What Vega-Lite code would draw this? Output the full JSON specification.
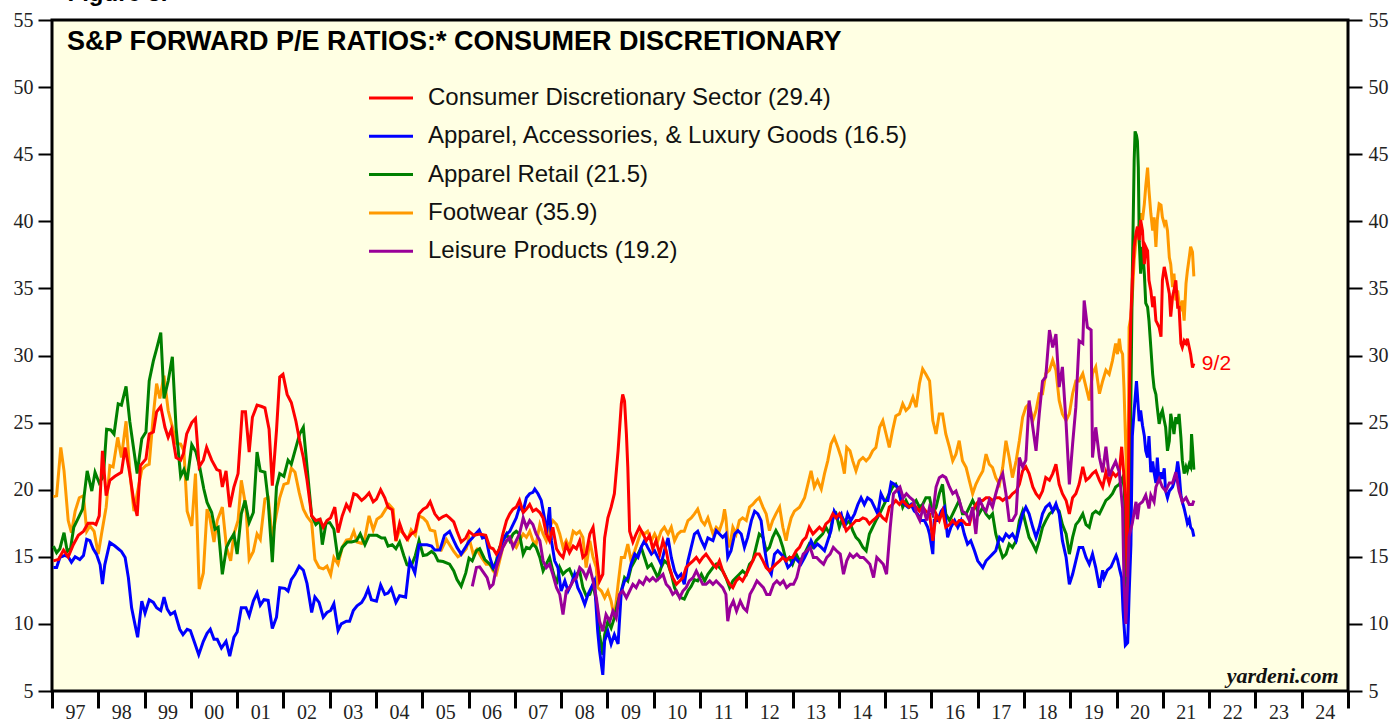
{
"$schema":"https://vega.github.io/schema/vega-lite/v6.json",
"width":1296,"height":671,
"autosize":{"type":"none"},
"padding":{"left":52,"top":20,"right":47,"bottom":28},
"background":"#FFFFFF",
"title":{"text":"S&P FORWARD P/E RATIOS:* CONSUMER DISCRETIONARY","anchor":"start","frame":"group","offset":-96,"dx":15,"font":"Liberation Sans","fontSize":27,"fontWeight":"bold","color":"#000000","baseline":"alphabetic"},
"config":{"view":{"fill":"#FFFFE3","stroke":"#000000","strokeWidth":3}},
"datasets":{
"cd":[{"t":1997.03,"v":14.7},{"t":1997.14,"v":14.8},{"t":1997.25,"v":15.5},{"t":1997.35,"v":15.0},{"t":1997.46,"v":15.9},{"t":1997.57,"v":16.6},{"t":1997.68,"v":16.9},{"t":1997.78,"v":17.5},{"t":1997.89,"v":17.5},{"t":1997.95,"v":17.4},{"t":1998.02,"v":18.05},{"t":1998.09,"v":22.9},{"t":1998.17,"v":19.55},{"t":1998.25,"v":20.7},{"t":1998.36,"v":21.0},{"t":1998.5,"v":21.3},{"t":1998.58,"v":23.15},{"t":1998.68,"v":21.2},{"t":1998.77,"v":19.05},{"t":1998.84,"v":18.05},{"t":1998.91,"v":21.8},{"t":1999.03,"v":22.3},{"t":1999.1,"v":24.15},{"t":1999.19,"v":24.3},{"t":1999.26,"v":25.8},{"t":1999.35,"v":26.2},{"t":1999.44,"v":24.65},{"t":1999.51,"v":23.9},{"t":1999.58,"v":24.5},{"t":1999.68,"v":22.4},{"t":1999.78,"v":22.2},{"t":1999.84,"v":22.7},{"t":1999.91,"v":24.15},{"t":2000.02,"v":25.0},{"t":2000.1,"v":25.3},{"t":2000.18,"v":21.7},{"t":2000.27,"v":22.2},{"t":2000.34,"v":23.15},{"t":2000.45,"v":22.2},{"t":2000.56,"v":21.5},{"t":2000.63,"v":21.4},{"t":2000.68,"v":20.2},{"t":2000.76,"v":21.4},{"t":2000.84,"v":18.7},{"t":2000.93,"v":20.2},{"t":2001.02,"v":21.2},{"t":2001.11,"v":25.8},{"t":2001.18,"v":25.8},{"t":2001.26,"v":22.8},{"t":2001.33,"v":25.4},{"t":2001.43,"v":26.3},{"t":2001.53,"v":26.2},{"t":2001.6,"v":26.1},{"t":2001.69,"v":24.5},{"t":2001.76,"v":20.3},{"t":2001.85,"v":24.4},{"t":2001.92,"v":28.4},{"t":2001.99,"v":28.6},{"t":2002.08,"v":27.1},{"t":2002.17,"v":26.5},{"t":2002.27,"v":25.1},{"t":2002.35,"v":23.65},{"t":2002.43,"v":22.4},{"t":2002.51,"v":20.7},{"t":2002.61,"v":18.05},{"t":2002.7,"v":17.7},{"t":2002.79,"v":17.8},{"t":2002.86,"v":17.2},{"t":2002.94,"v":17.7},{"t":2003.02,"v":17.9},{"t":2003.11,"v":18.7},{"t":2003.18,"v":16.8},{"t":2003.27,"v":18.05},{"t":2003.36,"v":18.9},{"t":2003.43,"v":18.5},{"t":2003.52,"v":19.7},{"t":2003.59,"v":19.6},{"t":2003.69,"v":19.2},{"t":2003.76,"v":19.4},{"t":2003.85,"v":19.75},{"t":2003.94,"v":19.1},{"t":2004.01,"v":19.3},{"t":2004.1,"v":20.0},{"t":2004.19,"v":19.4},{"t":2004.26,"v":18.7},{"t":2004.35,"v":18.5},{"t":2004.43,"v":16.2},{"t":2004.51,"v":17.5},{"t":2004.58,"v":16.8},{"t":2004.67,"v":16.3},{"t":2004.76,"v":16.7},{"t":2004.85,"v":16.9},{"t":2004.93,"v":18.2},{"t":2005.02,"v":18.55},{"t":2005.1,"v":18.7},{"t":2005.17,"v":19.1},{"t":2005.27,"v":18.2},{"t":2005.36,"v":17.8},{"t":2005.45,"v":18.0},{"t":2005.52,"v":18.1},{"t":2005.59,"v":17.9},{"t":2005.68,"v":17.6},{"t":2005.75,"v":16.9},{"t":2005.84,"v":16.1},{"t":2005.94,"v":16.4},{"t":2006.01,"v":16.9},{"t":2006.11,"v":16.6},{"t":2006.24,"v":16.7},{"t":2006.37,"v":16.6},{"t":2006.46,"v":15.7},{"t":2006.53,"v":15.6},{"t":2006.6,"v":15.2},{"t":2006.67,"v":15.6},{"t":2006.74,"v":16.7},{"t":2006.82,"v":17.7},{"t":2006.89,"v":18.2},{"t":2006.96,"v":18.55},{"t":2007.03,"v":18.7},{"t":2007.1,"v":19.2},{"t":2007.18,"v":18.3},{"t":2007.25,"v":18.55},{"t":2007.32,"v":18.9},{"t":2007.39,"v":18.4},{"t":2007.46,"v":18.55},{"t":2007.54,"v":18.3},{"t":2007.61,"v":17.9},{"t":2007.68,"v":16.7},{"t":2007.75,"v":16.2},{"t":2007.82,"v":17.2},{"t":2007.9,"v":15.6},{"t":2007.97,"v":15.2},{"t":2008.04,"v":14.95},{"t":2008.11,"v":15.9},{"t":2008.18,"v":15.3},{"t":2008.26,"v":15.8},{"t":2008.33,"v":15.6},{"t":2008.4,"v":16.2},{"t":2008.47,"v":14.95},{"t":2008.54,"v":15.2},{"t":2008.62,"v":16.7},{"t":2008.69,"v":17.2},{"t":2008.76,"v":15.2},{"t":2008.83,"v":13.2},{"t":2008.9,"v":13.7},{"t":2008.94,"v":16.4},{"t":2009.01,"v":17.9},{"t":2009.08,"v":18.7},{"t":2009.15,"v":19.7},{"t":2009.23,"v":22.9},{"t":2009.3,"v":26.4},{"t":2009.33,"v":27.1},{"t":2009.37,"v":26.6},{"t":2009.41,"v":24.15},{"t":2009.44,"v":21.7},{"t":2009.48,"v":16.9},{"t":2009.55,"v":16.1},{"t":2009.62,"v":16.7},{"t":2009.69,"v":17.2},{"t":2009.77,"v":16.7},{"t":2009.84,"v":16.2},{"t":2009.91,"v":16.6},{"t":2009.98,"v":15.6},{"t":2010.05,"v":16.2},{"t":2010.13,"v":15.2},{"t":2010.2,"v":16.2},{"t":2010.27,"v":15.45},{"t":2010.34,"v":14.2},{"t":2010.41,"v":13.45},{"t":2010.49,"v":12.95},{"t":2010.56,"v":13.2},{"t":2010.63,"v":13.45},{"t":2010.7,"v":14.2},{"t":2010.77,"v":14.45},{"t":2010.85,"v":14.7},{"t":2010.92,"v":14.95},{"t":2010.99,"v":14.6},{"t":2011.06,"v":14.95},{"t":2011.13,"v":15.2},{"t":2011.21,"v":14.8},{"t":2011.28,"v":14.45},{"t":2011.35,"v":14.2},{"t":2011.42,"v":14.7},{"t":2011.49,"v":13.95},{"t":2011.56,"v":13.45},{"t":2011.64,"v":12.95},{"t":2011.71,"v":12.7},{"t":2011.78,"v":13.2},{"t":2011.85,"v":13.45},{"t":2011.92,"v":13.2},{"t":2012.0,"v":13.7},{"t":2012.07,"v":14.2},{"t":2012.14,"v":14.7},{"t":2012.21,"v":15.2},{"t":2012.28,"v":15.2},{"t":2012.36,"v":14.7},{"t":2012.43,"v":14.2},{"t":2012.5,"v":13.95},{"t":2012.57,"v":14.2},{"t":2012.64,"v":14.45},{"t":2012.72,"v":14.7},{"t":2012.79,"v":14.95},{"t":2012.86,"v":14.7},{"t":2012.93,"v":14.95},{"t":2013.0,"v":14.95},{"t":2013.08,"v":15.45},{"t":2013.15,"v":15.7},{"t":2013.22,"v":16.2},{"t":2013.29,"v":16.45},{"t":2013.36,"v":17.2},{"t":2013.44,"v":16.7},{"t":2013.51,"v":16.95},{"t":2013.58,"v":17.2},{"t":2013.65,"v":16.95},{"t":2013.72,"v":17.45},{"t":2013.8,"v":17.7},{"t":2013.87,"v":18.2},{"t":2013.94,"v":17.9},{"t":2014.01,"v":18.2},{"t":2014.08,"v":17.7},{"t":2014.16,"v":16.95},{"t":2014.23,"v":17.2},{"t":2014.3,"v":17.45},{"t":2014.37,"v":17.7},{"t":2014.44,"v":17.7},{"t":2014.52,"v":17.9},{"t":2014.59,"v":17.8},{"t":2014.66,"v":17.45},{"t":2014.73,"v":17.7},{"t":2014.8,"v":17.9},{"t":2014.88,"v":18.2},{"t":2014.95,"v":17.9},{"t":2015.02,"v":17.7},{"t":2015.09,"v":18.7},{"t":2015.16,"v":18.9},{"t":2015.23,"v":19.2},{"t":2015.31,"v":18.9},{"t":2015.38,"v":19.2},{"t":2015.45,"v":18.9},{"t":2015.52,"v":18.7},{"t":2015.6,"v":18.9},{"t":2015.67,"v":18.7},{"t":2015.74,"v":18.4},{"t":2015.81,"v":18.7},{"t":2015.88,"v":18.4},{"t":2015.96,"v":18.2},{"t":2016.03,"v":16.2},{"t":2016.1,"v":18.2},{"t":2016.17,"v":17.7},{"t":2016.24,"v":18.4},{"t":2016.31,"v":17.2},{"t":2016.39,"v":17.4},{"t":2016.46,"v":17.7},{"t":2016.53,"v":17.4},{"t":2016.6,"v":17.7},{"t":2016.67,"v":17.7},{"t":2016.75,"v":17.4},{"t":2016.82,"v":17.4},{"t":2016.89,"v":18.4},{"t":2016.96,"v":18.9},{"t":2017.03,"v":19.2},{"t":2017.11,"v":19.2},{"t":2017.18,"v":19.4},{"t":2017.25,"v":19.4},{"t":2017.32,"v":19.2},{"t":2017.39,"v":19.4},{"t":2017.47,"v":19.4},{"t":2017.54,"v":19.2},{"t":2017.61,"v":19.4},{"t":2017.68,"v":19.4},{"t":2017.75,"v":19.7},{"t":2017.83,"v":19.9},{"t":2017.9,"v":20.4},{"t":2017.97,"v":21.4},{"t":2018.04,"v":21.7},{"t":2018.11,"v":21.2},{"t":2018.19,"v":20.2},{"t":2018.26,"v":19.7},{"t":2018.33,"v":19.4},{"t":2018.4,"v":19.9},{"t":2018.47,"v":20.9},{"t":2018.55,"v":20.7},{"t":2018.62,"v":21.2},{"t":2018.69,"v":21.9},{"t":2018.76,"v":20.4},{"t":2018.83,"v":19.7},{"t":2018.91,"v":19.2},{"t":2018.98,"v":18.2},{"t":2019.05,"v":19.4},{"t":2019.12,"v":19.7},{"t":2019.19,"v":20.4},{"t":2019.27,"v":21.7},{"t":2019.34,"v":20.7},{"t":2019.41,"v":20.9},{"t":2019.48,"v":21.2},{"t":2019.55,"v":21.4},{"t":2019.63,"v":20.7},{"t":2019.7,"v":20.2},{"t":2019.77,"v":21.3},{"t":2019.84,"v":20.5},{"t":2019.91,"v":21.3},{"t":2019.98,"v":21.0},{"t":2020.06,"v":21.3},{"t":2020.11,"v":23.2},{"t":2020.16,"v":21.0},{"t":2020.2,"v":19.0},{"t":2020.23,"v":13.5},{"t":2020.26,"v":22.0},{"t":2020.29,"v":30.0},{"t":2020.31,"v":33.1},{"t":2020.34,"v":35.6},{"t":2020.38,"v":38.1},{"t":2020.42,"v":39.1},{"t":2020.45,"v":39.6},{"t":2020.49,"v":38.6},{"t":2020.52,"v":40.1},{"t":2020.56,"v":39.3},{"t":2020.6,"v":36.8},{"t":2020.63,"v":38.1},{"t":2020.67,"v":37.8},{"t":2020.7,"v":35.6},{"t":2020.74,"v":34.85},{"t":2020.78,"v":33.6},{"t":2020.81,"v":34.4},{"t":2020.85,"v":32.6},{"t":2020.88,"v":32.4},{"t":2020.92,"v":32.1},{"t":2020.96,"v":31.4},{"t":2020.99,"v":35.6},{"t":2021.03,"v":36.6},{"t":2021.06,"v":36.1},{"t":2021.1,"v":35.35},{"t":2021.14,"v":34.6},{"t":2021.17,"v":32.9},{"t":2021.21,"v":34.4},{"t":2021.24,"v":34.85},{"t":2021.28,"v":35.6},{"t":2021.32,"v":33.6},{"t":2021.35,"v":33.6},{"t":2021.39,"v":30.9},{"t":2021.42,"v":30.6},{"t":2021.46,"v":31.1},{"t":2021.5,"v":30.9},{"t":2021.53,"v":31.25},{"t":2021.57,"v":30.6},{"t":2021.6,"v":30.1},{"t":2021.64,"v":29.1},{"t":2021.67,"v":29.4}],
"ap":[{"t":1997.03,"v":14.2},{"t":1997.1,"v":14.2},{"t":1997.17,"v":14.95},{"t":1997.28,"v":15.1},{"t":1997.35,"v":15.0},{"t":1997.42,"v":14.6},{"t":1997.5,"v":15.0},{"t":1997.6,"v":14.8},{"t":1997.68,"v":15.1},{"t":1997.75,"v":16.3},{"t":1997.82,"v":16.2},{"t":1997.89,"v":15.6},{"t":1997.96,"v":15.2},{"t":1998.04,"v":14.4},{"t":1998.09,"v":12.96},{"t":1998.14,"v":14.4},{"t":1998.25,"v":16.06},{"t":1998.36,"v":15.8},{"t":1998.43,"v":15.6},{"t":1998.5,"v":15.4},{"t":1998.58,"v":14.95},{"t":1998.65,"v":13.45},{"t":1998.72,"v":11.2},{"t":1998.79,"v":10.0},{"t":1998.85,"v":9.0},{"t":1998.94,"v":11.7},{"t":1999.01,"v":10.8},{"t":1999.1,"v":11.8},{"t":1999.19,"v":11.6},{"t":1999.26,"v":11.2},{"t":1999.35,"v":11.0},{"t":1999.42,"v":12.0},{"t":1999.49,"v":11.1},{"t":1999.56,"v":10.7},{"t":1999.65,"v":10.9},{"t":1999.76,"v":9.6},{"t":1999.83,"v":9.2},{"t":1999.92,"v":9.6},{"t":1999.99,"v":9.5},{"t":2000.07,"v":8.7},{"t":2000.17,"v":7.7},{"t":2000.27,"v":8.7},{"t":2000.35,"v":9.3},{"t":2000.42,"v":9.6},{"t":2000.5,"v":8.85},{"t":2000.57,"v":8.85},{"t":2000.66,"v":8.2},{"t":2000.76,"v":8.7},{"t":2000.84,"v":7.6},{"t":2000.93,"v":9.0},{"t":2001.0,"v":9.4},{"t":2001.09,"v":11.2},{"t":2001.19,"v":11.2},{"t":2001.26,"v":10.6},{"t":2001.35,"v":11.7},{"t":2001.43,"v":12.3},{"t":2001.5,"v":11.4},{"t":2001.58,"v":11.8},{"t":2001.67,"v":11.75},{"t":2001.76,"v":9.65},{"t":2001.85,"v":10.5},{"t":2001.92,"v":12.7},{"t":2002.03,"v":12.65},{"t":2002.1,"v":12.45},{"t":2002.17,"v":13.3},{"t":2002.25,"v":13.7},{"t":2002.34,"v":14.3},{"t":2002.43,"v":14.0},{"t":2002.51,"v":13.0},{"t":2002.61,"v":10.85},{"t":2002.68,"v":12.0},{"t":2002.77,"v":11.6},{"t":2002.86,"v":10.5},{"t":2002.94,"v":10.85},{"t":2003.02,"v":11.0},{"t":2003.09,"v":11.5},{"t":2003.18,"v":9.5},{"t":2003.25,"v":10.0},{"t":2003.36,"v":10.2},{"t":2003.43,"v":10.2},{"t":2003.51,"v":11.0},{"t":2003.59,"v":11.35},{"t":2003.69,"v":11.6},{"t":2003.76,"v":12.0},{"t":2003.83,"v":12.6},{"t":2003.9,"v":11.8},{"t":2004.01,"v":11.7},{"t":2004.1,"v":12.9},{"t":2004.19,"v":12.2},{"t":2004.26,"v":12.3},{"t":2004.33,"v":12.65},{"t":2004.43,"v":11.6},{"t":2004.51,"v":12.1},{"t":2004.64,"v":12.0},{"t":2004.73,"v":14.7},{"t":2004.84,"v":13.8},{"t":2004.93,"v":15.9},{"t":2005.02,"v":15.9},{"t":2005.1,"v":15.9},{"t":2005.2,"v":15.8},{"t":2005.27,"v":15.5},{"t":2005.38,"v":15.5},{"t":2005.48,"v":16.6},{"t":2005.59,"v":16.9},{"t":2005.68,"v":16.2},{"t":2005.75,"v":15.7},{"t":2005.84,"v":15.2},{"t":2005.94,"v":15.75},{"t":2006.01,"v":16.15},{"t":2006.08,"v":16.4},{"t":2006.15,"v":16.7},{"t":2006.23,"v":17.0},{"t":2006.3,"v":16.4},{"t":2006.37,"v":16.5},{"t":2006.46,"v":14.95},{"t":2006.53,"v":14.2},{"t":2006.6,"v":14.45},{"t":2006.67,"v":15.6},{"t":2006.74,"v":16.2},{"t":2006.82,"v":16.7},{"t":2006.89,"v":16.9},{"t":2006.96,"v":17.4},{"t":2007.03,"v":17.9},{"t":2007.1,"v":18.7},{"t":2007.18,"v":18.4},{"t":2007.25,"v":19.4},{"t":2007.32,"v":19.7},{"t":2007.39,"v":19.8},{"t":2007.43,"v":20.05},{"t":2007.5,"v":19.7},{"t":2007.57,"v":19.2},{"t":2007.64,"v":17.9},{"t":2007.68,"v":16.7},{"t":2007.75,"v":18.7},{"t":2007.79,"v":16.2},{"t":2007.86,"v":14.7},{"t":2007.93,"v":14.2},{"t":2008.0,"v":12.45},{"t":2008.08,"v":13.2},{"t":2008.15,"v":12.45},{"t":2008.22,"v":12.95},{"t":2008.29,"v":13.7},{"t":2008.36,"v":12.7},{"t":2008.43,"v":12.2},{"t":2008.51,"v":11.45},{"t":2008.58,"v":12.2},{"t":2008.65,"v":12.7},{"t":2008.72,"v":13.2},{"t":2008.79,"v":9.45},{"t":2008.83,"v":8.0},{"t":2008.9,"v":6.2},{"t":2008.94,"v":8.75},{"t":2009.01,"v":9.45},{"t":2009.08,"v":8.5},{"t":2009.15,"v":9.2},{"t":2009.23,"v":8.5},{"t":2009.3,"v":12.45},{"t":2009.37,"v":13.2},{"t":2009.44,"v":13.45},{"t":2009.51,"v":14.45},{"t":2009.59,"v":15.2},{"t":2009.66,"v":14.95},{"t":2009.73,"v":15.7},{"t":2009.8,"v":16.2},{"t":2009.87,"v":15.7},{"t":2009.95,"v":15.2},{"t":2010.02,"v":15.45},{"t":2010.09,"v":14.95},{"t":2010.16,"v":14.45},{"t":2010.23,"v":15.45},{"t":2010.31,"v":16.4},{"t":2010.38,"v":14.95},{"t":2010.45,"v":13.95},{"t":2010.52,"v":13.45},{"t":2010.59,"v":13.7},{"t":2010.66,"v":12.95},{"t":2010.74,"v":14.7},{"t":2010.81,"v":15.7},{"t":2010.88,"v":16.7},{"t":2010.95,"v":16.9},{"t":2011.03,"v":16.2},{"t":2011.1,"v":15.7},{"t":2011.17,"v":16.4},{"t":2011.28,"v":16.2},{"t":2011.35,"v":16.95},{"t":2011.42,"v":16.7},{"t":2011.49,"v":16.45},{"t":2011.56,"v":16.7},{"t":2011.6,"v":14.95},{"t":2011.67,"v":15.45},{"t":2011.75,"v":16.7},{"t":2011.82,"v":16.95},{"t":2011.89,"v":16.7},{"t":2011.96,"v":15.7},{"t":2012.03,"v":16.45},{"t":2012.11,"v":17.7},{"t":2012.18,"v":18.4},{"t":2012.25,"v":18.2},{"t":2012.32,"v":17.7},{"t":2012.39,"v":15.7},{"t":2012.46,"v":14.2},{"t":2012.54,"v":13.7},{"t":2012.61,"v":15.2},{"t":2012.68,"v":15.45},{"t":2012.75,"v":15.2},{"t":2012.82,"v":14.95},{"t":2012.9,"v":14.2},{"t":2012.97,"v":14.45},{"t":2013.04,"v":14.95},{"t":2013.11,"v":14.7},{"t":2013.18,"v":14.45},{"t":2013.26,"v":14.95},{"t":2013.33,"v":15.45},{"t":2013.4,"v":16.2},{"t":2013.47,"v":15.7},{"t":2013.54,"v":15.95},{"t":2013.62,"v":15.7},{"t":2013.69,"v":15.45},{"t":2013.76,"v":16.2},{"t":2013.83,"v":16.95},{"t":2013.9,"v":18.4},{"t":2013.98,"v":17.9},{"t":2014.05,"v":18.2},{"t":2014.12,"v":17.2},{"t":2014.19,"v":18.2},{"t":2014.26,"v":17.7},{"t":2014.34,"v":18.2},{"t":2014.41,"v":18.9},{"t":2014.48,"v":19.4},{"t":2014.55,"v":18.9},{"t":2014.62,"v":19.4},{"t":2014.7,"v":19.2},{"t":2014.77,"v":18.7},{"t":2014.84,"v":18.2},{"t":2014.91,"v":19.7},{"t":2014.98,"v":19.2},{"t":2015.06,"v":19.2},{"t":2015.13,"v":20.55},{"t":2015.2,"v":20.4},{"t":2015.27,"v":20.2},{"t":2015.34,"v":19.2},{"t":2015.42,"v":18.9},{"t":2015.49,"v":18.7},{"t":2015.56,"v":18.9},{"t":2015.63,"v":18.4},{"t":2015.7,"v":18.2},{"t":2015.78,"v":17.7},{"t":2015.85,"v":17.7},{"t":2015.92,"v":17.2},{"t":2015.96,"v":16.7},{"t":2016.03,"v":15.2},{"t":2016.06,"v":17.7},{"t":2016.14,"v":17.7},{"t":2016.21,"v":18.4},{"t":2016.28,"v":18.7},{"t":2016.35,"v":16.45},{"t":2016.42,"v":17.2},{"t":2016.5,"v":17.7},{"t":2016.57,"v":17.2},{"t":2016.64,"v":17.7},{"t":2016.71,"v":16.7},{"t":2016.78,"v":15.95},{"t":2016.85,"v":16.2},{"t":2016.93,"v":15.45},{"t":2017.0,"v":14.7},{"t":2017.11,"v":14.2},{"t":2017.18,"v":14.7},{"t":2017.25,"v":14.95},{"t":2017.32,"v":15.2},{"t":2017.39,"v":15.45},{"t":2017.47,"v":16.45},{"t":2017.54,"v":16.2},{"t":2017.61,"v":16.7},{"t":2017.68,"v":16.45},{"t":2017.75,"v":16.7},{"t":2017.83,"v":16.2},{"t":2017.9,"v":17.2},{"t":2017.97,"v":18.2},{"t":2018.04,"v":18.7},{"t":2018.11,"v":18.2},{"t":2018.19,"v":17.2},{"t":2018.26,"v":16.45},{"t":2018.33,"v":17.2},{"t":2018.4,"v":18.2},{"t":2018.47,"v":18.7},{"t":2018.55,"v":18.95},{"t":2018.62,"v":18.4},{"t":2018.69,"v":18.95},{"t":2018.76,"v":18.2},{"t":2018.83,"v":16.2},{"t":2018.91,"v":14.95},{"t":2018.98,"v":12.95},{"t":2019.05,"v":13.7},{"t":2019.12,"v":14.7},{"t":2019.19,"v":15.7},{"t":2019.27,"v":15.7},{"t":2019.34,"v":14.95},{"t":2019.41,"v":14.45},{"t":2019.48,"v":15.2},{"t":2019.55,"v":14.2},{"t":2019.63,"v":12.7},{"t":2019.7,"v":14.0},{"t":2019.73,"v":13.45},{"t":2019.8,"v":14.0},{"t":2019.88,"v":14.25},{"t":2019.95,"v":14.8},{"t":2019.99,"v":15.1},{"t":2020.02,"v":14.8},{"t":2020.07,"v":14.0},{"t":2020.11,"v":13.45},{"t":2020.14,"v":11.0},{"t":2020.19,"v":8.4},{"t":2020.24,"v":8.6},{"t":2020.27,"v":12.1},{"t":2020.31,"v":15.9},{"t":2020.34,"v":24.0},{"t":2020.38,"v":25.9},{"t":2020.43,"v":28.1},{"t":2020.49,"v":25.1},{"t":2020.52,"v":25.9},{"t":2020.56,"v":24.8},{"t":2020.6,"v":24.0},{"t":2020.63,"v":22.9},{"t":2020.67,"v":22.4},{"t":2020.7,"v":24.0},{"t":2020.74,"v":21.3},{"t":2020.78,"v":22.1},{"t":2020.81,"v":21.3},{"t":2020.85,"v":20.5},{"t":2020.88,"v":22.4},{"t":2020.92,"v":20.5},{"t":2020.96,"v":21.3},{"t":2020.99,"v":20.8},{"t":2021.03,"v":21.6},{"t":2021.06,"v":19.9},{"t":2021.1,"v":19.4},{"t":2021.14,"v":19.9},{"t":2021.21,"v":20.2},{"t":2021.28,"v":21.0},{"t":2021.32,"v":22.1},{"t":2021.35,"v":21.3},{"t":2021.39,"v":19.6},{"t":2021.42,"v":19.1},{"t":2021.46,"v":18.6},{"t":2021.5,"v":18.0},{"t":2021.53,"v":17.5},{"t":2021.57,"v":17.8},{"t":2021.6,"v":17.2},{"t":2021.64,"v":17.0},{"t":2021.67,"v":16.5}],
"ar":[{"t":1997.03,"v":15.8},{"t":1997.1,"v":15.3},{"t":1997.17,"v":15.6},{"t":1997.26,"v":16.8},{"t":1997.33,"v":15.4},{"t":1997.4,"v":15.6},{"t":1997.47,"v":17.2},{"t":1997.57,"v":17.9},{"t":1997.66,"v":18.55},{"t":1997.76,"v":21.4},{"t":1997.86,"v":19.9},{"t":1997.93,"v":21.3},{"t":1998.02,"v":20.5},{"t":1998.11,"v":21.0},{"t":1998.18,"v":24.5},{"t":1998.27,"v":24.45},{"t":1998.34,"v":24.15},{"t":1998.43,"v":26.4},{"t":1998.5,"v":26.3},{"t":1998.6,"v":27.7},{"t":1998.68,"v":25.1},{"t":1998.77,"v":22.9},{"t":1998.84,"v":21.2},{"t":1998.94,"v":23.8},{"t":1999.03,"v":24.3},{"t":1999.1,"v":28.1},{"t":1999.19,"v":29.6},{"t":1999.26,"v":30.5},{"t":1999.35,"v":31.7},{"t":1999.42,"v":26.8},{"t":1999.51,"v":28.1},{"t":1999.6,"v":29.9},{"t":1999.68,"v":24.65},{"t":1999.78,"v":21.0},{"t":1999.85,"v":21.5},{"t":1999.92,"v":20.7},{"t":2000.02,"v":23.35},{"t":2000.11,"v":22.8},{"t":2000.19,"v":21.7},{"t":2000.28,"v":20.05},{"t":2000.35,"v":19.05},{"t":2000.45,"v":18.3},{"t":2000.52,"v":17.05},{"t":2000.59,"v":17.2},{"t":2000.68,"v":13.7},{"t":2000.77,"v":15.7},{"t":2000.84,"v":16.2},{"t":2000.93,"v":16.7},{"t":2001.0,"v":15.2},{"t":2001.09,"v":18.2},{"t":2001.17,"v":19.2},{"t":2001.26,"v":17.55},{"t":2001.35,"v":18.3},{"t":2001.43,"v":22.8},{"t":2001.5,"v":21.4},{"t":2001.6,"v":21.3},{"t":2001.67,"v":19.2},{"t":2001.76,"v":14.6},{"t":2001.85,"v":20.2},{"t":2001.92,"v":21.2},{"t":2002.01,"v":21.0},{"t":2002.1,"v":22.2},{"t":2002.17,"v":21.9},{"t":2002.27,"v":23.15},{"t":2002.35,"v":24.15},{"t":2002.43,"v":24.65},{"t":2002.51,"v":21.7},{"t":2002.61,"v":18.05},{"t":2002.7,"v":17.4},{"t":2002.79,"v":17.7},{"t":2002.84,"v":15.9},{"t":2002.92,"v":17.5},{"t":2003.0,"v":17.55},{"t":2003.09,"v":17.05},{"t":2003.18,"v":14.8},{"t":2003.27,"v":15.7},{"t":2003.38,"v":16.1},{"t":2003.47,"v":16.1},{"t":2003.58,"v":16.2},{"t":2003.66,"v":16.7},{"t":2003.76,"v":15.9},{"t":2003.85,"v":16.6},{"t":2003.94,"v":16.6},{"t":2004.02,"v":16.6},{"t":2004.12,"v":16.4},{"t":2004.19,"v":16.4},{"t":2004.26,"v":15.8},{"t":2004.35,"v":15.9},{"t":2004.43,"v":15.6},{"t":2004.51,"v":16.1},{"t":2004.6,"v":15.1},{"t":2004.67,"v":14.4},{"t":2004.76,"v":14.3},{"t":2004.85,"v":15.1},{"t":2004.93,"v":16.2},{"t":2005.02,"v":15.1},{"t":2005.1,"v":15.15},{"t":2005.2,"v":15.4},{"t":2005.27,"v":15.2},{"t":2005.34,"v":14.7},{"t":2005.45,"v":14.65},{"t":2005.59,"v":14.45},{"t":2005.68,"v":13.95},{"t":2005.75,"v":13.3},{"t":2005.84,"v":12.8},{"t":2005.94,"v":13.8},{"t":2006.01,"v":14.9},{"t":2006.08,"v":14.7},{"t":2006.17,"v":15.45},{"t":2006.24,"v":15.6},{"t":2006.35,"v":14.8},{"t":2006.46,"v":14.45},{"t":2006.53,"v":14.1},{"t":2006.6,"v":14.7},{"t":2006.67,"v":15.7},{"t":2006.74,"v":16.2},{"t":2006.82,"v":16.7},{"t":2006.89,"v":16.2},{"t":2006.96,"v":16.7},{"t":2007.03,"v":16.9},{"t":2007.1,"v":16.7},{"t":2007.18,"v":15.2},{"t":2007.25,"v":15.7},{"t":2007.32,"v":15.6},{"t":2007.39,"v":15.95},{"t":2007.46,"v":15.7},{"t":2007.54,"v":14.95},{"t":2007.61,"v":13.95},{"t":2007.68,"v":14.45},{"t":2007.75,"v":14.95},{"t":2007.82,"v":13.95},{"t":2007.9,"v":12.95},{"t":2007.97,"v":14.2},{"t":2008.04,"v":13.7},{"t":2008.11,"v":13.95},{"t":2008.18,"v":14.1},{"t":2008.26,"v":13.45},{"t":2008.33,"v":13.7},{"t":2008.4,"v":13.95},{"t":2008.47,"v":12.7},{"t":2008.54,"v":12.1},{"t":2008.62,"v":12.2},{"t":2008.69,"v":12.95},{"t":2008.76,"v":11.7},{"t":2008.83,"v":9.2},{"t":2008.9,"v":7.7},{"t":2008.94,"v":9.2},{"t":2009.01,"v":10.2},{"t":2009.08,"v":9.7},{"t":2009.15,"v":10.45},{"t":2009.23,"v":11.7},{"t":2009.3,"v":12.45},{"t":2009.37,"v":13.45},{"t":2009.44,"v":13.2},{"t":2009.51,"v":14.2},{"t":2009.59,"v":14.7},{"t":2009.66,"v":15.2},{"t":2009.73,"v":15.7},{"t":2009.8,"v":14.95},{"t":2009.87,"v":14.2},{"t":2009.95,"v":14.45},{"t":2010.02,"v":13.95},{"t":2010.09,"v":13.45},{"t":2010.16,"v":14.2},{"t":2010.23,"v":14.7},{"t":2010.31,"v":14.45},{"t":2010.38,"v":13.7},{"t":2010.45,"v":12.7},{"t":2010.52,"v":12.2},{"t":2010.59,"v":11.95},{"t":2010.66,"v":11.85},{"t":2010.74,"v":12.45},{"t":2010.81,"v":12.8},{"t":2010.88,"v":13.3},{"t":2010.95,"v":13.2},{"t":2011.03,"v":13.7},{"t":2011.1,"v":13.2},{"t":2011.17,"v":13.7},{"t":2011.28,"v":14.2},{"t":2011.35,"v":14.45},{"t":2011.42,"v":14.2},{"t":2011.49,"v":13.95},{"t":2011.56,"v":13.45},{"t":2011.64,"v":12.7},{"t":2011.71,"v":13.2},{"t":2011.78,"v":13.45},{"t":2011.85,"v":13.7},{"t":2011.92,"v":13.95},{"t":2012.0,"v":13.7},{"t":2012.07,"v":14.45},{"t":2012.14,"v":14.7},{"t":2012.21,"v":15.7},{"t":2012.28,"v":16.7},{"t":2012.36,"v":16.45},{"t":2012.43,"v":15.45},{"t":2012.5,"v":15.7},{"t":2012.57,"v":16.45},{"t":2012.64,"v":16.95},{"t":2012.72,"v":16.45},{"t":2012.79,"v":15.7},{"t":2012.86,"v":14.7},{"t":2012.93,"v":14.95},{"t":2013.0,"v":14.45},{"t":2013.08,"v":15.2},{"t":2013.15,"v":14.7},{"t":2013.22,"v":14.95},{"t":2013.29,"v":15.45},{"t":2013.36,"v":15.95},{"t":2013.44,"v":15.7},{"t":2013.51,"v":16.2},{"t":2013.58,"v":16.45},{"t":2013.65,"v":16.7},{"t":2013.72,"v":17.2},{"t":2013.8,"v":16.7},{"t":2013.87,"v":17.9},{"t":2013.94,"v":18.2},{"t":2014.01,"v":17.2},{"t":2014.08,"v":17.9},{"t":2014.16,"v":17.45},{"t":2014.23,"v":17.7},{"t":2014.3,"v":16.95},{"t":2014.37,"v":16.45},{"t":2014.44,"v":16.2},{"t":2014.52,"v":15.7},{"t":2014.59,"v":15.45},{"t":2014.66,"v":16.7},{"t":2014.73,"v":17.2},{"t":2014.8,"v":17.7},{"t":2014.88,"v":18.2},{"t":2014.95,"v":18.7},{"t":2015.02,"v":19.2},{"t":2015.09,"v":19.7},{"t":2015.16,"v":20.2},{"t":2015.23,"v":20.4},{"t":2015.31,"v":19.7},{"t":2015.38,"v":18.7},{"t":2015.45,"v":19.2},{"t":2015.52,"v":18.7},{"t":2015.6,"v":18.9},{"t":2015.67,"v":19.2},{"t":2015.74,"v":18.7},{"t":2015.81,"v":18.9},{"t":2015.88,"v":19.4},{"t":2015.96,"v":19.4},{"t":2016.03,"v":18.2},{"t":2016.1,"v":18.7},{"t":2016.17,"v":19.7},{"t":2016.24,"v":20.4},{"t":2016.31,"v":18.2},{"t":2016.39,"v":17.7},{"t":2016.46,"v":18.2},{"t":2016.53,"v":18.7},{"t":2016.6,"v":19.2},{"t":2016.67,"v":18.2},{"t":2016.75,"v":18.2},{"t":2016.82,"v":18.7},{"t":2016.89,"v":19.2},{"t":2016.96,"v":18.7},{"t":2017.03,"v":18.2},{"t":2017.11,"v":18.7},{"t":2017.18,"v":18.2},{"t":2017.25,"v":17.9},{"t":2017.32,"v":18.2},{"t":2017.39,"v":16.7},{"t":2017.47,"v":15.7},{"t":2017.54,"v":14.95},{"t":2017.61,"v":15.2},{"t":2017.68,"v":15.95},{"t":2017.75,"v":15.7},{"t":2017.83,"v":16.2},{"t":2017.9,"v":17.7},{"t":2017.97,"v":18.4},{"t":2018.04,"v":17.4},{"t":2018.11,"v":16.45},{"t":2018.19,"v":15.95},{"t":2018.26,"v":15.45},{"t":2018.33,"v":16.2},{"t":2018.4,"v":17.2},{"t":2018.47,"v":17.7},{"t":2018.55,"v":18.2},{"t":2018.62,"v":18.4},{"t":2018.69,"v":18.7},{"t":2018.76,"v":18.4},{"t":2018.83,"v":17.4},{"t":2018.91,"v":16.7},{"t":2018.98,"v":15.2},{"t":2019.05,"v":16.45},{"t":2019.12,"v":17.4},{"t":2019.19,"v":17.7},{"t":2019.27,"v":18.2},{"t":2019.34,"v":17.4},{"t":2019.41,"v":17.2},{"t":2019.48,"v":18.2},{"t":2019.55,"v":18.4},{"t":2019.63,"v":18.2},{"t":2019.7,"v":18.7},{"t":2019.77,"v":19.2},{"t":2019.84,"v":19.4},{"t":2019.91,"v":19.7},{"t":2019.98,"v":20.2},{"t":2020.06,"v":20.4},{"t":2020.13,"v":20.9},{"t":2020.17,"v":20.0},{"t":2020.2,"v":14.0},{"t":2020.23,"v":11.5},{"t":2020.26,"v":16.0},{"t":2020.3,"v":24.0},{"t":2020.34,"v":36.0},{"t":2020.38,"v":44.5},{"t":2020.4,"v":46.7},{"t":2020.43,"v":46.4},{"t":2020.45,"v":46.0},{"t":2020.47,"v":44.0},{"t":2020.49,"v":38.5},{"t":2020.52,"v":36.1},{"t":2020.56,"v":38.1},{"t":2020.6,"v":36.1},{"t":2020.63,"v":33.9},{"t":2020.67,"v":33.6},{"t":2020.7,"v":32.6},{"t":2020.74,"v":30.6},{"t":2020.78,"v":28.6},{"t":2020.81,"v":27.6},{"t":2020.85,"v":27.1},{"t":2020.88,"v":26.1},{"t":2020.92,"v":24.9},{"t":2020.96,"v":25.65},{"t":2020.99,"v":25.9},{"t":2021.03,"v":25.15},{"t":2021.06,"v":24.65},{"t":2021.1,"v":22.9},{"t":2021.14,"v":23.65},{"t":2021.17,"v":25.65},{"t":2021.21,"v":24.9},{"t":2021.24,"v":24.15},{"t":2021.28,"v":25.4},{"t":2021.32,"v":24.9},{"t":2021.35,"v":25.65},{"t":2021.39,"v":23.9},{"t":2021.42,"v":22.2},{"t":2021.46,"v":21.2},{"t":2021.5,"v":21.7},{"t":2021.53,"v":21.4},{"t":2021.57,"v":21.9},{"t":2021.6,"v":21.7},{"t":2021.62,"v":24.15},{"t":2021.64,"v":23.15},{"t":2021.67,"v":21.5}],
"fw":[{"t":1997.03,"v":19.5},{"t":1997.1,"v":19.55},{"t":1997.19,"v":23.15},{"t":1997.26,"v":21.4},{"t":1997.35,"v":17.7},{"t":1997.42,"v":16.8},{"t":1997.5,"v":18.4},{"t":1997.59,"v":19.4},{"t":1997.68,"v":19.55},{"t":1997.75,"v":16.9},{"t":1997.82,"v":17.3},{"t":1997.91,"v":16.9},{"t":1998.0,"v":15.2},{"t":1998.07,"v":16.7},{"t":1998.17,"v":18.7},{"t":1998.25,"v":21.8},{"t":1998.32,"v":21.7},{"t":1998.42,"v":23.9},{"t":1998.5,"v":22.4},{"t":1998.6,"v":25.1},{"t":1998.68,"v":21.4},{"t":1998.77,"v":18.4},{"t":1998.84,"v":19.7},{"t":1998.94,"v":21.5},{"t":1999.03,"v":21.8},{"t":1999.1,"v":21.9},{"t":1999.19,"v":25.6},{"t":1999.26,"v":27.9},{"t":1999.33,"v":26.8},{"t":1999.42,"v":28.5},{"t":1999.51,"v":25.9},{"t":1999.62,"v":24.4},{"t":1999.69,"v":23.45},{"t":1999.78,"v":23.4},{"t":1999.85,"v":22.9},{"t":1999.92,"v":18.4},{"t":2000.02,"v":17.3},{"t":2000.1,"v":21.2},{"t":2000.18,"v":12.6},{"t":2000.27,"v":13.8},{"t":2000.35,"v":18.55},{"t":2000.41,"v":17.9},{"t":2000.5,"v":16.1},{"t":2000.57,"v":17.7},{"t":2000.68,"v":18.7},{"t":2000.77,"v":15.7},{"t":2000.86,"v":14.7},{"t":2000.93,"v":16.7},{"t":2001.02,"v":17.7},{"t":2001.09,"v":20.7},{"t":2001.19,"v":18.7},{"t":2001.26,"v":14.8},{"t":2001.35,"v":15.4},{"t":2001.43,"v":16.7},{"t":2001.5,"v":16.3},{"t":2001.6,"v":19.3},{"t":2001.67,"v":19.4},{"t":2001.76,"v":16.4},{"t":2001.85,"v":18.2},{"t":2001.92,"v":19.4},{"t":2002.01,"v":20.4},{"t":2002.1,"v":20.5},{"t":2002.17,"v":21.6},{"t":2002.25,"v":21.3},{"t":2002.34,"v":19.8},{"t":2002.43,"v":18.55},{"t":2002.51,"v":18.0},{"t":2002.61,"v":17.55},{"t":2002.68,"v":14.8},{"t":2002.77,"v":14.2},{"t":2002.86,"v":14.1},{"t":2002.94,"v":14.3},{"t":2003.02,"v":13.65},{"t":2003.09,"v":14.95},{"t":2003.18,"v":14.45},{"t":2003.27,"v":15.7},{"t":2003.36,"v":16.25},{"t":2003.45,"v":16.3},{"t":2003.52,"v":16.9},{"t":2003.59,"v":16.1},{"t":2003.69,"v":16.0},{"t":2003.76,"v":16.4},{"t":2003.85,"v":18.05},{"t":2003.94,"v":17.0},{"t":2004.02,"v":17.8},{"t":2004.12,"v":18.05},{"t":2004.21,"v":18.55},{"t":2004.28,"v":18.9},{"t":2004.37,"v":18.55},{"t":2004.43,"v":16.15},{"t":2004.51,"v":17.05},{"t":2004.6,"v":16.7},{"t":2004.69,"v":16.3},{"t":2004.76,"v":17.0},{"t":2004.85,"v":16.6},{"t":2004.93,"v":18.05},{"t":2005.02,"v":17.9},{"t":2005.1,"v":17.6},{"t":2005.17,"v":17.0},{"t":2005.27,"v":16.9},{"t":2005.34,"v":15.6},{"t":2005.41,"v":15.5},{"t":2005.52,"v":16.3},{"t":2005.59,"v":15.9},{"t":2005.68,"v":15.4},{"t":2005.77,"v":15.0},{"t":2005.84,"v":15.15},{"t":2005.95,"v":15.6},{"t":2006.01,"v":16.4},{"t":2006.1,"v":15.2},{"t":2006.18,"v":15.55},{"t":2006.28,"v":14.95},{"t":2006.38,"v":14.45},{"t":2006.46,"v":14.45},{"t":2006.53,"v":13.95},{"t":2006.6,"v":13.7},{"t":2006.67,"v":14.7},{"t":2006.74,"v":15.7},{"t":2006.82,"v":16.2},{"t":2006.89,"v":16.45},{"t":2006.96,"v":15.95},{"t":2007.03,"v":15.7},{"t":2007.1,"v":16.2},{"t":2007.18,"v":16.7},{"t":2007.25,"v":16.45},{"t":2007.32,"v":16.9},{"t":2007.39,"v":16.2},{"t":2007.46,"v":15.95},{"t":2007.54,"v":17.4},{"t":2007.61,"v":16.7},{"t":2007.68,"v":16.2},{"t":2007.75,"v":17.2},{"t":2007.82,"v":17.7},{"t":2007.9,"v":17.4},{"t":2007.97,"v":16.7},{"t":2008.04,"v":15.7},{"t":2008.11,"v":16.2},{"t":2008.18,"v":15.7},{"t":2008.26,"v":16.9},{"t":2008.33,"v":16.7},{"t":2008.4,"v":16.9},{"t":2008.47,"v":16.45},{"t":2008.54,"v":14.2},{"t":2008.62,"v":16.2},{"t":2008.69,"v":14.95},{"t":2008.76,"v":14.2},{"t":2008.79,"v":12.7},{"t":2008.87,"v":12.45},{"t":2008.94,"v":11.95},{"t":2009.01,"v":12.45},{"t":2009.08,"v":11.7},{"t":2009.15,"v":10.45},{"t":2009.23,"v":12.95},{"t":2009.3,"v":14.95},{"t":2009.37,"v":14.95},{"t":2009.44,"v":15.95},{"t":2009.51,"v":14.7},{"t":2009.59,"v":15.45},{"t":2009.66,"v":16.2},{"t":2009.73,"v":16.9},{"t":2009.8,"v":16.7},{"t":2009.87,"v":16.9},{"t":2009.95,"v":16.2},{"t":2010.02,"v":16.7},{"t":2010.09,"v":16.2},{"t":2010.16,"v":16.9},{"t":2010.23,"v":17.2},{"t":2010.31,"v":16.7},{"t":2010.38,"v":17.2},{"t":2010.45,"v":16.2},{"t":2010.52,"v":16.7},{"t":2010.59,"v":16.9},{"t":2010.66,"v":16.9},{"t":2010.74,"v":17.7},{"t":2010.81,"v":17.9},{"t":2010.88,"v":18.2},{"t":2010.95,"v":18.55},{"t":2011.03,"v":17.7},{"t":2011.1,"v":17.4},{"t":2011.17,"v":17.9},{"t":2011.28,"v":16.7},{"t":2011.35,"v":17.2},{"t":2011.42,"v":16.95},{"t":2011.49,"v":17.7},{"t":2011.53,"v":18.55},{"t":2011.56,"v":17.9},{"t":2011.6,"v":16.2},{"t":2011.64,"v":15.7},{"t":2011.71,"v":17.2},{"t":2011.78,"v":16.7},{"t":2011.85,"v":17.7},{"t":2011.92,"v":17.9},{"t":2012.0,"v":17.7},{"t":2012.07,"v":18.7},{"t":2012.14,"v":18.9},{"t":2012.21,"v":19.2},{"t":2012.28,"v":19.4},{"t":2012.36,"v":18.7},{"t":2012.43,"v":18.2},{"t":2012.5,"v":16.95},{"t":2012.57,"v":17.7},{"t":2012.64,"v":18.2},{"t":2012.72,"v":18.7},{"t":2012.79,"v":17.2},{"t":2012.86,"v":16.2},{"t":2012.9,"v":16.95},{"t":2012.97,"v":17.9},{"t":2013.04,"v":18.4},{"t":2013.15,"v":18.7},{"t":2013.26,"v":19.4},{"t":2013.33,"v":20.4},{"t":2013.4,"v":21.4},{"t":2013.47,"v":20.2},{"t":2013.54,"v":20.7},{"t":2013.62,"v":20.05},{"t":2013.69,"v":21.2},{"t":2013.76,"v":22.15},{"t":2013.83,"v":23.4},{"t":2013.9,"v":23.9},{"t":2013.98,"v":23.15},{"t":2014.05,"v":22.4},{"t":2014.12,"v":21.2},{"t":2014.17,"v":23.15},{"t":2014.24,"v":22.9},{"t":2014.3,"v":22.15},{"t":2014.37,"v":21.4},{"t":2014.44,"v":22.15},{"t":2014.52,"v":22.4},{"t":2014.59,"v":22.15},{"t":2014.66,"v":22.4},{"t":2014.73,"v":22.9},{"t":2014.8,"v":23.15},{"t":2014.88,"v":24.65},{"t":2014.95,"v":25.15},{"t":2015.02,"v":24.15},{"t":2015.09,"v":23.15},{"t":2015.16,"v":24.4},{"t":2015.23,"v":25.5},{"t":2015.31,"v":25.65},{"t":2015.38,"v":26.4},{"t":2015.45,"v":25.9},{"t":2015.52,"v":26.15},{"t":2015.6,"v":26.9},{"t":2015.67,"v":26.15},{"t":2015.74,"v":27.9},{"t":2015.81,"v":29.0},{"t":2015.88,"v":28.6},{"t":2015.96,"v":28.1},{"t":2016.03,"v":25.15},{"t":2016.1,"v":24.15},{"t":2016.17,"v":25.65},{"t":2016.24,"v":25.65},{"t":2016.31,"v":24.15},{"t":2016.39,"v":23.15},{"t":2016.46,"v":22.15},{"t":2016.53,"v":22.65},{"t":2016.6,"v":23.65},{"t":2016.67,"v":22.15},{"t":2016.75,"v":21.65},{"t":2016.82,"v":20.65},{"t":2016.89,"v":19.7},{"t":2016.96,"v":20.4},{"t":2017.03,"v":20.9},{"t":2017.11,"v":21.4},{"t":2017.18,"v":22.65},{"t":2017.25,"v":21.9},{"t":2017.32,"v":21.65},{"t":2017.39,"v":20.9},{"t":2017.47,"v":20.4},{"t":2017.54,"v":21.65},{"t":2017.61,"v":23.65},{"t":2017.68,"v":22.4},{"t":2017.75,"v":20.9},{"t":2017.83,"v":22.15},{"t":2017.9,"v":23.65},{"t":2017.97,"v":25.4},{"t":2018.04,"v":26.15},{"t":2018.11,"v":26.4},{"t":2018.19,"v":25.15},{"t":2018.26,"v":25.9},{"t":2018.33,"v":27.15},{"t":2018.4,"v":27.15},{"t":2018.47,"v":28.65},{"t":2018.55,"v":28.9},{"t":2018.62,"v":29.65},{"t":2018.69,"v":28.9},{"t":2018.76,"v":26.65},{"t":2018.83,"v":25.65},{"t":2018.91,"v":25.15},{"t":2018.98,"v":25.65},{"t":2019.05,"v":27.15},{"t":2019.12,"v":28.1},{"t":2019.19,"v":28.1},{"t":2019.27,"v":28.65},{"t":2019.34,"v":27.65},{"t":2019.41,"v":26.65},{"t":2019.48,"v":28.65},{"t":2019.55,"v":29.15},{"t":2019.63,"v":27.15},{"t":2019.7,"v":28.1},{"t":2019.77,"v":28.9},{"t":2019.84,"v":28.6},{"t":2019.91,"v":29.6},{"t":2019.98,"v":30.9},{"t":2020.02,"v":30.1},{"t":2020.06,"v":31.25},{"t":2020.09,"v":30.4},{"t":2020.13,"v":30.1},{"t":2020.16,"v":27.6},{"t":2020.2,"v":23.0},{"t":2020.23,"v":19.7},{"t":2020.26,"v":26.0},{"t":2020.27,"v":32.1},{"t":2020.31,"v":32.9},{"t":2020.34,"v":34.4},{"t":2020.38,"v":37.1},{"t":2020.42,"v":38.6},{"t":2020.49,"v":39.8},{"t":2020.52,"v":40.6},{"t":2020.56,"v":40.1},{"t":2020.6,"v":41.3},{"t":2020.63,"v":42.6},{"t":2020.67,"v":44.0},{"t":2020.7,"v":42.3},{"t":2020.74,"v":40.6},{"t":2020.78,"v":39.3},{"t":2020.81,"v":40.3},{"t":2020.85,"v":38.1},{"t":2020.88,"v":40.1},{"t":2020.92,"v":41.3},{"t":2020.96,"v":41.2},{"t":2020.99,"v":40.3},{"t":2021.03,"v":39.8},{"t":2021.06,"v":40.1},{"t":2021.1,"v":39.3},{"t":2021.14,"v":37.3},{"t":2021.17,"v":36.8},{"t":2021.21,"v":35.1},{"t":2021.24,"v":36.1},{"t":2021.28,"v":34.1},{"t":2021.32,"v":34.85},{"t":2021.35,"v":33.9},{"t":2021.39,"v":33.6},{"t":2021.42,"v":34.1},{"t":2021.46,"v":32.6},{"t":2021.5,"v":35.35},{"t":2021.53,"v":36.3},{"t":2021.57,"v":37.3},{"t":2021.6,"v":38.1},{"t":2021.64,"v":37.7},{"t":2021.67,"v":35.9}],
"lp":[{"t":2006.08,"v":12.8},{"t":2006.17,"v":14.2},{"t":2006.24,"v":14.25},{"t":2006.31,"v":13.9},{"t":2006.4,"v":13.45},{"t":2006.46,"v":12.7},{"t":2006.53,"v":12.95},{"t":2006.6,"v":14.2},{"t":2006.67,"v":14.95},{"t":2006.74,"v":15.7},{"t":2006.82,"v":16.2},{"t":2006.89,"v":16.45},{"t":2006.96,"v":15.7},{"t":2007.03,"v":16.2},{"t":2007.1,"v":16.7},{"t":2007.18,"v":17.9},{"t":2007.25,"v":17.2},{"t":2007.32,"v":17.7},{"t":2007.39,"v":17.4},{"t":2007.46,"v":16.7},{"t":2007.54,"v":16.2},{"t":2007.61,"v":14.7},{"t":2007.68,"v":14.2},{"t":2007.75,"v":14.45},{"t":2007.82,"v":13.7},{"t":2007.9,"v":12.7},{"t":2007.97,"v":12.2},{"t":2008.04,"v":10.7},{"t":2008.11,"v":12.45},{"t":2008.18,"v":12.7},{"t":2008.26,"v":13.2},{"t":2008.33,"v":13.45},{"t":2008.4,"v":14.2},{"t":2008.47,"v":13.95},{"t":2008.54,"v":13.45},{"t":2008.62,"v":14.2},{"t":2008.69,"v":13.2},{"t":2008.76,"v":11.95},{"t":2008.83,"v":10.2},{"t":2008.9,"v":9.45},{"t":2008.97,"v":10.7},{"t":2009.05,"v":10.2},{"t":2009.12,"v":10.95},{"t":2009.19,"v":10.45},{"t":2009.26,"v":12.2},{"t":2009.33,"v":12.45},{"t":2009.41,"v":11.95},{"t":2009.48,"v":12.45},{"t":2009.55,"v":12.95},{"t":2009.62,"v":12.7},{"t":2009.69,"v":13.2},{"t":2009.77,"v":12.95},{"t":2009.84,"v":13.45},{"t":2009.91,"v":13.2},{"t":2009.98,"v":13.45},{"t":2010.05,"v":13.2},{"t":2010.13,"v":13.45},{"t":2010.2,"v":13.7},{"t":2010.27,"v":12.95},{"t":2010.34,"v":12.7},{"t":2010.41,"v":12.2},{"t":2010.49,"v":12.45},{"t":2010.56,"v":11.95},{"t":2010.63,"v":12.45},{"t":2010.7,"v":12.7},{"t":2010.77,"v":13.2},{"t":2010.85,"v":13.45},{"t":2010.92,"v":13.95},{"t":2010.99,"v":13.45},{"t":2011.06,"v":12.95},{"t":2011.13,"v":12.95},{"t":2011.21,"v":13.2},{"t":2011.28,"v":12.95},{"t":2011.35,"v":13.2},{"t":2011.42,"v":12.95},{"t":2011.49,"v":12.7},{"t":2011.56,"v":12.2},{"t":2011.6,"v":10.2},{"t":2011.65,"v":11.2},{"t":2011.72,"v":11.7},{"t":2011.79,"v":10.95},{"t":2011.87,"v":11.7},{"t":2011.94,"v":11.2},{"t":2012.01,"v":10.95},{"t":2012.08,"v":12.2},{"t":2012.16,"v":12.7},{"t":2012.23,"v":13.2},{"t":2012.3,"v":12.95},{"t":2012.37,"v":12.7},{"t":2012.44,"v":12.2},{"t":2012.51,"v":12.2},{"t":2012.59,"v":12.95},{"t":2012.66,"v":13.2},{"t":2012.73,"v":12.95},{"t":2012.8,"v":13.2},{"t":2012.87,"v":12.7},{"t":2012.95,"v":12.95},{"t":2013.02,"v":12.95},{"t":2013.09,"v":13.45},{"t":2013.16,"v":14.45},{"t":2013.23,"v":15.2},{"t":2013.31,"v":15.45},{"t":2013.38,"v":15.7},{"t":2013.45,"v":14.95},{"t":2013.52,"v":14.95},{"t":2013.59,"v":14.7},{"t":2013.67,"v":14.45},{"t":2013.74,"v":14.95},{"t":2013.81,"v":15.2},{"t":2013.88,"v":15.7},{"t":2013.95,"v":15.45},{"t":2014.03,"v":15.2},{"t":2014.1,"v":13.7},{"t":2014.17,"v":14.7},{"t":2014.24,"v":15.2},{"t":2014.31,"v":14.95},{"t":2014.39,"v":15.2},{"t":2014.46,"v":14.95},{"t":2014.53,"v":14.95},{"t":2014.6,"v":14.7},{"t":2014.67,"v":14.45},{"t":2014.75,"v":13.45},{"t":2014.82,"v":14.95},{"t":2014.89,"v":14.7},{"t":2014.96,"v":14.45},{"t":2015.03,"v":13.7},{"t":2015.11,"v":17.2},{"t":2015.18,"v":19.7},{"t":2015.25,"v":19.95},{"t":2015.32,"v":20.2},{"t":2015.39,"v":19.4},{"t":2015.46,"v":19.7},{"t":2015.54,"v":19.4},{"t":2015.61,"v":19.2},{"t":2015.68,"v":18.2},{"t":2015.75,"v":17.7},{"t":2015.82,"v":18.7},{"t":2015.9,"v":17.7},{"t":2015.96,"v":18.7},{"t":2016.03,"v":18.2},{"t":2016.1,"v":20.2},{"t":2016.17,"v":20.9},{"t":2016.24,"v":21.05},{"t":2016.31,"v":20.9},{"t":2016.39,"v":20.2},{"t":2016.46,"v":19.7},{"t":2016.53,"v":19.9},{"t":2016.6,"v":19.2},{"t":2016.67,"v":18.4},{"t":2016.75,"v":18.2},{"t":2016.82,"v":17.7},{"t":2016.89,"v":18.7},{"t":2016.96,"v":16.7},{"t":2017.03,"v":19.4},{"t":2017.11,"v":18.7},{"t":2017.18,"v":18.4},{"t":2017.25,"v":19.2},{"t":2017.32,"v":18.7},{"t":2017.39,"v":19.7},{"t":2017.47,"v":20.7},{"t":2017.54,"v":21.2},{"t":2017.61,"v":19.7},{"t":2017.68,"v":17.7},{"t":2017.75,"v":17.7},{"t":2017.83,"v":18.2},{"t":2017.9,"v":22.4},{"t":2017.97,"v":21.7},{"t":2018.04,"v":22.2},{"t":2018.11,"v":26.65},{"t":2018.19,"v":24.65},{"t":2018.26,"v":22.9},{"t":2018.33,"v":25.65},{"t":2018.4,"v":28.1},{"t":2018.47,"v":28.4},{"t":2018.55,"v":31.9},{"t":2018.62,"v":30.6},{"t":2018.69,"v":31.6},{"t":2018.76,"v":27.65},{"t":2018.83,"v":29.15},{"t":2018.91,"v":24.9},{"t":2018.98,"v":20.4},{"t":2019.05,"v":23.4},{"t":2019.12,"v":26.15},{"t":2019.19,"v":31.1},{"t":2019.27,"v":30.9},{"t":2019.3,"v":34.1},{"t":2019.37,"v":32.1},{"t":2019.45,"v":31.9},{"t":2019.48,"v":22.4},{"t":2019.55,"v":24.65},{"t":2019.63,"v":22.4},{"t":2019.7,"v":21.3},{"t":2019.77,"v":23.2},{"t":2019.84,"v":21.0},{"t":2019.91,"v":21.6},{"t":2019.98,"v":22.1},{"t":2020.06,"v":21.3},{"t":2020.13,"v":18.6},{"t":2020.16,"v":13.2},{"t":2020.2,"v":10.0},{"t":2020.24,"v":13.2},{"t":2020.27,"v":16.5},{"t":2020.34,"v":17.5},{"t":2020.42,"v":19.1},{"t":2020.45,"v":17.8},{"t":2020.49,"v":18.9},{"t":2020.56,"v":19.1},{"t":2020.63,"v":19.6},{"t":2020.7,"v":18.6},{"t":2020.74,"v":19.6},{"t":2020.81,"v":19.1},{"t":2020.85,"v":20.2},{"t":2020.92,"v":20.8},{"t":2020.99,"v":20.2},{"t":2021.06,"v":19.9},{"t":2021.14,"v":20.5},{"t":2021.21,"v":20.5},{"t":2021.28,"v":21.3},{"t":2021.35,"v":19.9},{"t":2021.42,"v":19.1},{"t":2021.5,"v":19.4},{"t":2021.57,"v":18.9},{"t":2021.64,"v":18.9},{"t":2021.67,"v":19.2}],
"lbl":[{"t":2021.67,"v":29.4,"label":"9/2"}]
},
"resolve":{"axis":{"y":"independent"}},
"encoding":{
 "x":{"field":"t","type":"quantitative","scale":{"domain":[1997,2025],"nice":false,"zero":false},
  "axis":{"orient":"bottom","values":[1997,1998,1999,2000,2001,2002,2003,2004,2005,2006,2007,2008,2009,2010,2011,2012,2013,2014,2015,2016,2017,2018,2019,2020,2021,2022,2023,2024,2025],
   "labelExpr":"datum.value < 2025 ? substring(toString(datum.value), 2, 4) : ''","labelOffset":23,"labelFlush":false,"labelOverlap":false,"labelBound":false,
   "labelFont":"Liberation Serif","labelFontSize":20,"labelColor":"#222222","labelBaseline":"alphabetic","labelPadding":10,
   "tickSize":17,"tickWidth":3,"tickColor":"#000000","domain":false,"grid":false,
   "title":"yardeni.com","titleFont":"Liberation Serif","titleFontSize":22,"titleFontWeight":"bold","titleFontStyle":"italic","titleColor":"#111111",
   "titleX":1286,"titleY":-9,"titleAlign":"right","titleBaseline":"alphabetic","titleAnchor":"end"}}
},
"layer":[
{"data":{"name":"fw"},"mark":{"type":"line","strokeWidth":3,"clip":true},
 "encoding":{
  "y":{"field":"v","type":"quantitative","scale":{"domain":[5,55],"nice":false,"zero":false},
   "axis":{"orient":"left","values":[5,10,15,20,25,30,35,40,45,50,55],"labelFont":"Liberation Serif","labelFontSize":20,"labelColor":"#222222","labelPadding":5,
    "tickSize":14,"tickWidth":2,"tickColor":"#000000","domain":false,"grid":false,"labelFlush":false,"labelOverlap":false,
    "title":"Figure 5.","titleAngle":0,"titleX":15,"titleY":-20,"titleAlign":"left","titleBaseline":"alphabetic","titleFont":"Liberation Sans","titleFontWeight":"bold","titleFontSize":24,"titleColor":"#000000","titleAnchor":"start"}},
  "color":{"datum":"Footwear (35.9)","type":"nominal",
   "scale":{"domain":["Consumer Discretionary Sector (29.4)","Apparel, Accessories, & Luxury Goods (16.5)","Apparel Retail (21.5)","Footwear (35.9)","Leisure Products (19.2)"],"range":["#FF0000","#0000FF","#008000","#FF9900","#990099"]},
   "legend":{"orient":"none","legendX":327,"legendY":66,"title":null,"symbolType":"M-2.2,0H2.2","symbolSize":400,"symbolStrokeWidth":3,
    "labelFont":"Liberation Sans","labelFontSize":24,"labelColor":"#111111","labelOffset":25,"rowPadding":14.3,"padding":0,"labelLimit":0}}}},
{"data":{"name":"ar"},"mark":{"type":"line","strokeWidth":3,"clip":true},
 "encoding":{
  "y":{"field":"v","type":"quantitative","scale":{"domain":[5,55],"nice":false,"zero":false},
   "axis":{"orient":"right","values":[5,10,15,20,25,30,35,40,45,50,55],"labelFont":"Liberation Serif","labelFontSize":20,"labelColor":"#222222","labelPadding":6,
    "tickSize":14,"tickWidth":2,"tickColor":"#000000","domain":false,"grid":false,"labelFlush":false,"labelOverlap":false,"title":null}},
  "color":{"datum":"Apparel Retail (21.5)","type":"nominal"}}},
{"data":{"name":"ap"},"mark":{"type":"line","strokeWidth":3,"clip":true},
 "encoding":{
  "y":{"field":"v","type":"quantitative","scale":{"domain":[5,55],"nice":false,"zero":false},"axis":null},
  "color":{"datum":"Apparel, Accessories, & Luxury Goods (16.5)","type":"nominal"}}},
{"data":{"name":"cd"},"mark":{"type":"line","strokeWidth":3,"clip":true},
 "encoding":{
  "y":{"field":"v","type":"quantitative","scale":{"domain":[5,55],"nice":false,"zero":false},"axis":null},
  "color":{"datum":"Consumer Discretionary Sector (29.4)","type":"nominal"}}},
{"data":{"name":"lp"},"mark":{"type":"line","strokeWidth":3,"clip":true},
 "encoding":{
  "y":{"field":"v","type":"quantitative","scale":{"domain":[5,55],"nice":false,"zero":false},"axis":null},
  "color":{"datum":"Leisure Products (19.2)","type":"nominal"}}},
{"data":{"name":"lbl"},"mark":{"type":"text","align":"left","baseline":"middle","dx":8,"font":"Liberation Sans","fontSize":21,"color":"#FF0000"},
 "encoding":{
  "y":{"field":"v","type":"quantitative","scale":{"domain":[5,55],"nice":false,"zero":false},"axis":null},
  "text":{"field":"label"}}}
]
}
